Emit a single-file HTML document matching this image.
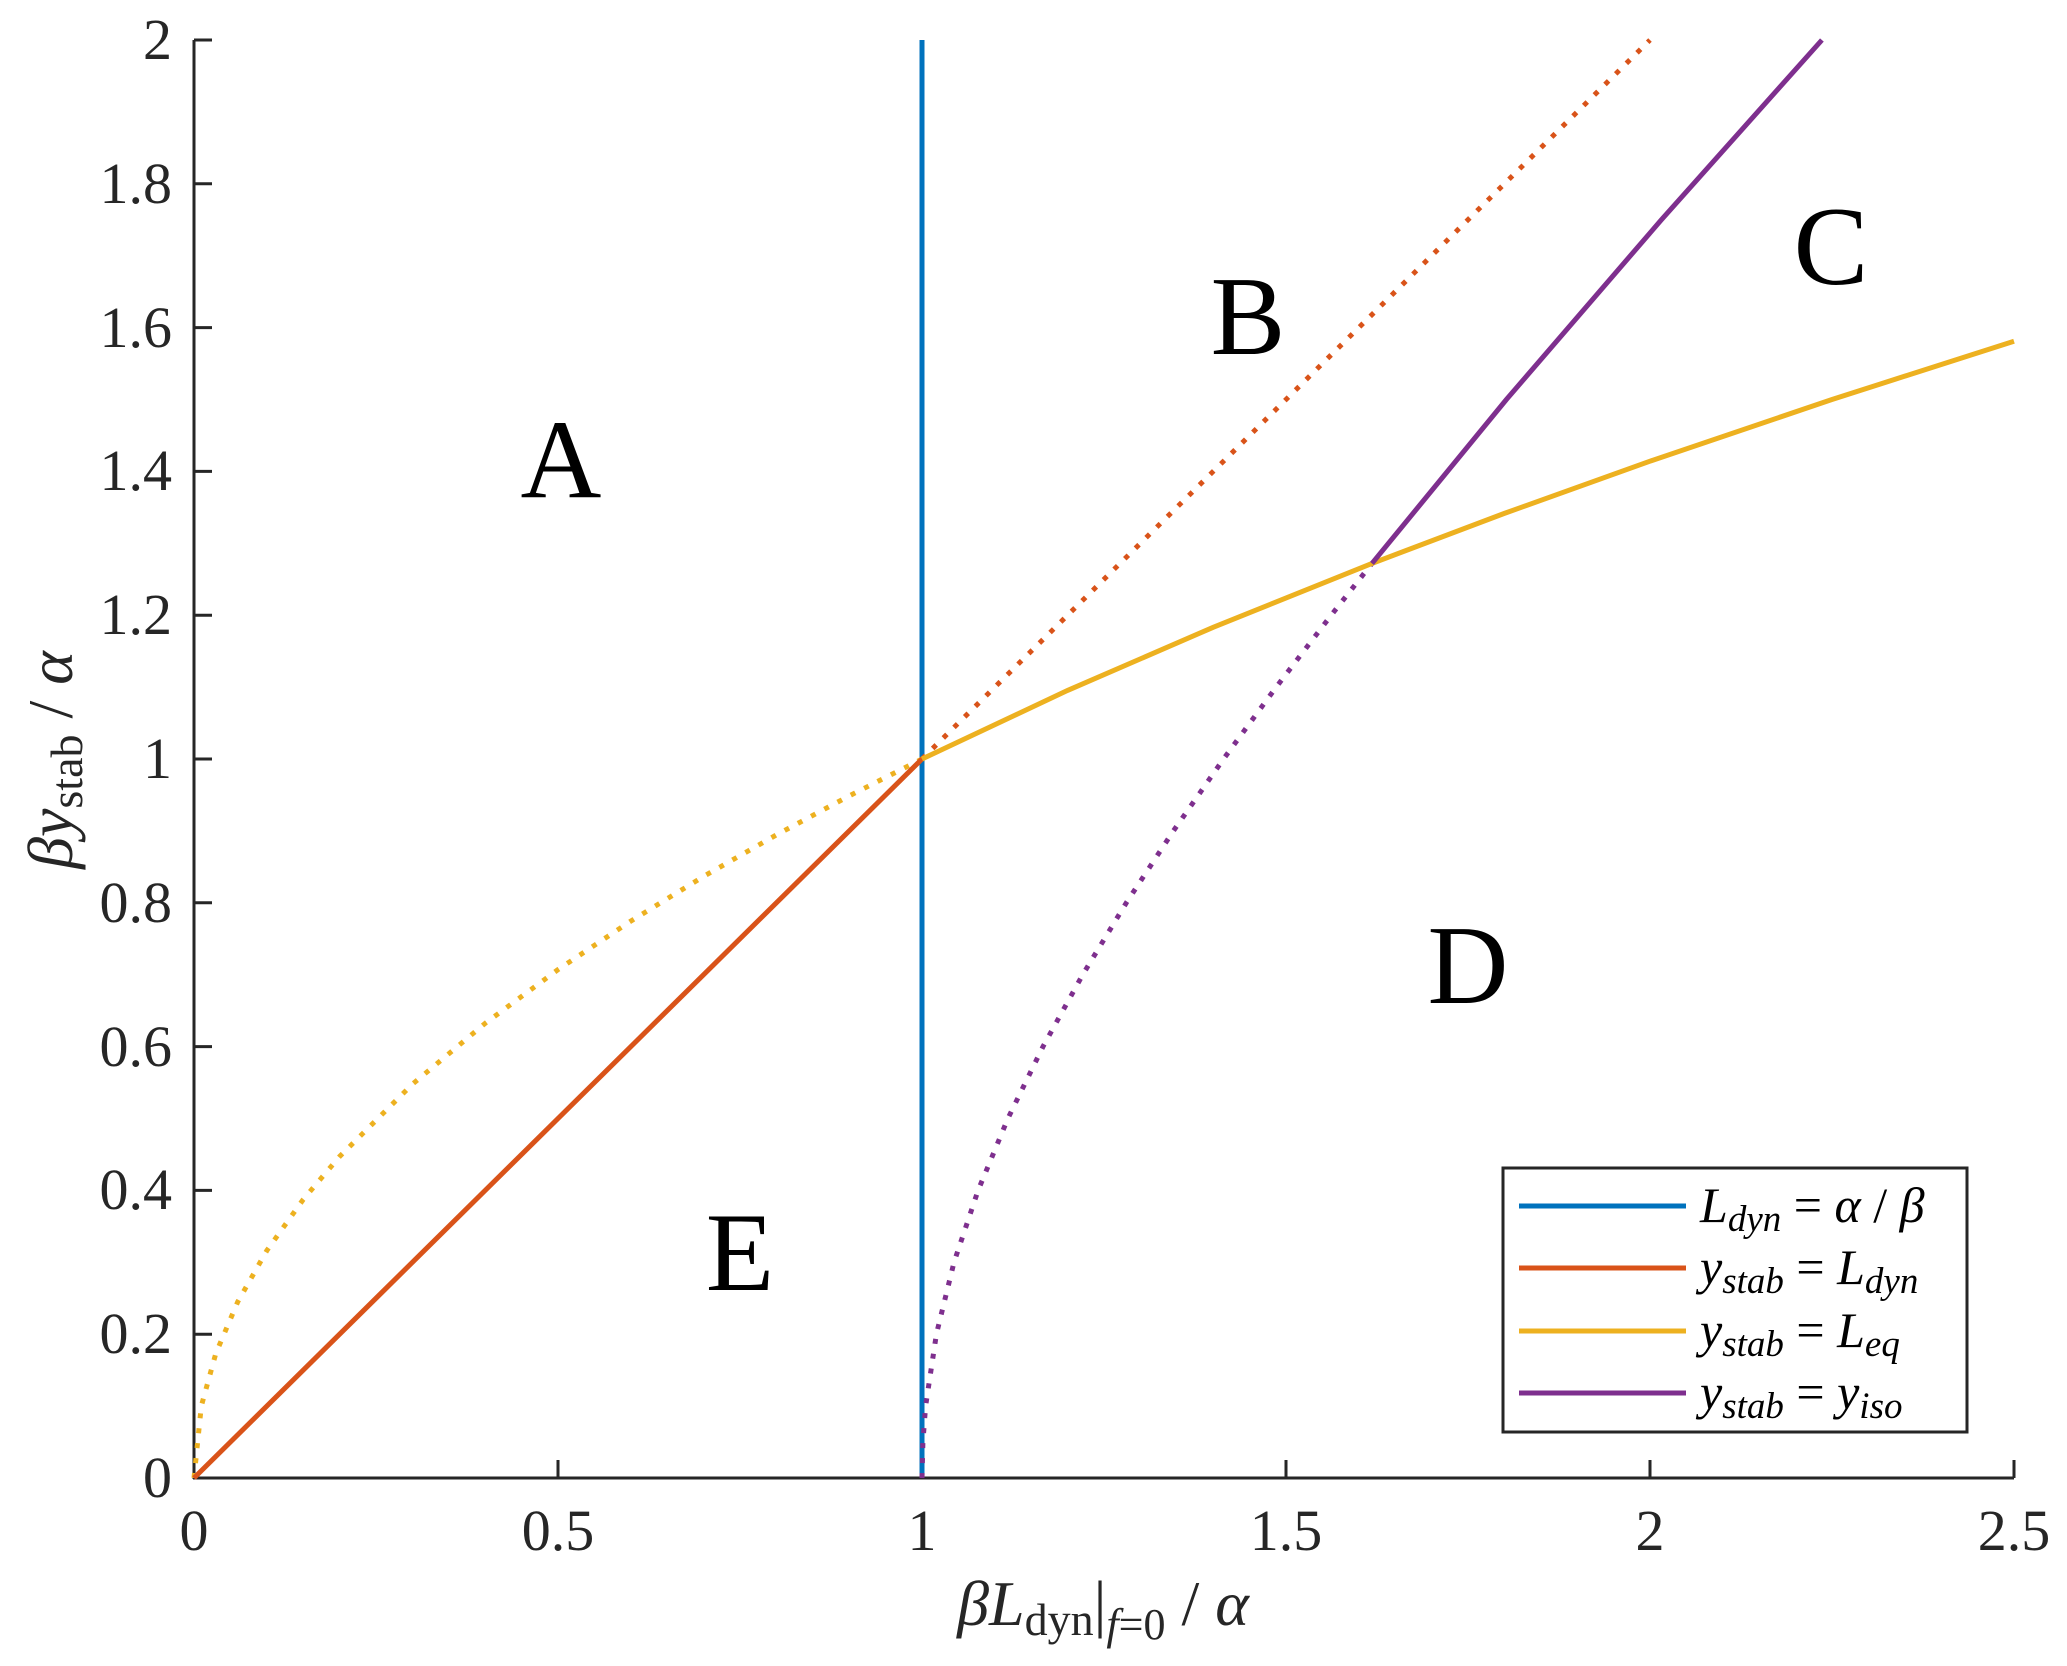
<!DOCTYPE html>
<html><head><meta charset="utf-8"><style>
html,body{margin:0;padding:0;background:#fff;}
svg{display:block;}
text{font-family:"Liberation Serif","DejaVu Serif",serif;fill:#262626;}
</style></head><body>
<svg width="2067" height="1666" viewBox="0 0 2067 1666" xmlns="http://www.w3.org/2000/svg">
<rect width="2067" height="1666" fill="#fff"/>
<g stroke="#262626" stroke-width="3" fill="none">
<line x1="194" y1="40" x2="194" y2="1479"/>
<line x1="193" y1="1478" x2="2014" y2="1478"/>
<line x1="558" y1="1478" x2="558" y2="1460"/>
<line x1="922" y1="1478" x2="922" y2="1460"/>
<line x1="1286" y1="1478" x2="1286" y2="1460"/>
<line x1="1650" y1="1478" x2="1650" y2="1460"/>
<line x1="2014" y1="1478" x2="2014" y2="1460"/>
<line x1="194" y1="1334.2" x2="212" y2="1334.2"/>
<line x1="194" y1="1190.4" x2="212" y2="1190.4"/>
<line x1="194" y1="1046.6" x2="212" y2="1046.6"/>
<line x1="194" y1="902.8" x2="212" y2="902.8"/>
<line x1="194" y1="759" x2="212" y2="759"/>
<line x1="194" y1="615.2" x2="212" y2="615.2"/>
<line x1="194" y1="471.4" x2="212" y2="471.4"/>
<line x1="194" y1="327.6" x2="212" y2="327.6"/>
<line x1="194" y1="183.8" x2="212" y2="183.8"/>
<line x1="194" y1="40" x2="212" y2="40"/>
</g>
<g font-size="58" text-anchor="end">
<text x="172" y="1497">0</text>
<text x="172" y="1353">0.2</text>
<text x="172" y="1209">0.4</text>
<text x="172" y="1066">0.6</text>
<text x="172" y="922">0.8</text>
<text x="172" y="778">1</text>
<text x="172" y="634">1.2</text>
<text x="172" y="490">1.4</text>
<text x="172" y="347">1.6</text>
<text x="172" y="203">1.8</text>
<text x="172" y="59">2</text>
</g>
<g font-size="58" text-anchor="middle">
<text x="194" y="1550">0</text>
<text x="558" y="1550">0.5</text>
<text x="922" y="1550">1</text>
<text x="1286" y="1550">1.5</text>
<text x="1650" y="1550">2</text>
<text x="2014" y="1550">2.5</text>
</g>
<text x="1103" y="1625" font-size="64" text-anchor="middle"><tspan font-style="italic">βL</tspan><tspan font-size="46" dy="10">dyn</tspan><tspan dy="-10">|</tspan><tspan font-size="44" font-style="italic" dy="14">f</tspan><tspan font-size="44">=0</tspan><tspan dy="-14"> / </tspan><tspan font-style="italic">α</tspan></text>
<text transform="translate(72,760) rotate(-90)" font-size="64" text-anchor="middle"><tspan font-style="italic">βy</tspan><tspan font-size="46" dy="10">stab</tspan><tspan dy="-10"> / </tspan><tspan font-style="italic">α</tspan></text>
<g fill="none" stroke-width="5">
<line x1="922" y1="40" x2="922" y2="1478" stroke="#0072BD"/>
<polyline stroke="#EDB120" stroke-dasharray="5 10" points="194,1478 201.3,1406.1 215.8,1353.5 237.7,1301.9 266.8,1250.6 303.2,1199.5 339.6,1156.5 412.4,1084.2 485.2,1023.3 558,969.6 630.8,921.1 703.6,876.4 776.4,834.9 849.2,795.9 922,759"/>
<polyline stroke="#7E2F8E" stroke-dasharray="5 10" points="922,1478 922.9,1442 925.6,1406.1 936.4,1334.2 954,1262.3 978.1,1190.4 1007.9,1118.5 1043,1046.6 1082.7,974.7 1126.3,902.8 1173.4,830.9 1223.5,759 1276.2,687.1 1331.2,615.2 1372,563.4"/>
<line x1="922" y1="759" x2="1650" y2="40" stroke="#D95319" stroke-dasharray="5 10"/>
<line x1="194" y1="1478" x2="922" y2="759" stroke="#D95319"/>
<polyline stroke="#EDB120" points="922,759 1067.6,690.4 1213.2,627.3 1372,563.4 1504.4,513.4 1650,461.2 1832,399.5 2014,341.2"/>
<polyline stroke="#7E2F8E" points="1372,563.4 1506.4,399.5 1661.4,219.75 1821.9,40"/>
</g>
<g font-size="112" text-anchor="middle">
<text x="561" y="497" style="fill:#000">A</text>
<text x="1248" y="354" style="fill:#000">B</text>
<text x="1831" y="284" style="fill:#000">C</text>
<text x="1468" y="1003" style="fill:#000">D</text>
<text x="740" y="1290" style="fill:#000">E</text>
</g>
<rect x="1503" y="1168" width="464" height="264" fill="#fff" stroke="#262626" stroke-width="3"/>
<g stroke-width="5">
<line x1="1519" y1="1206" x2="1686" y2="1206" stroke="#0072BD"/>
<line x1="1519" y1="1268" x2="1686" y2="1268" stroke="#D95319"/>
<line x1="1519" y1="1331" x2="1686" y2="1331" stroke="#EDB120"/>
<line x1="1519" y1="1393" x2="1686" y2="1393" stroke="#7E2F8E"/>
</g>
<g font-size="50">
<text x="1700" y="1222" style="fill:#000"><tspan font-style="italic">L</tspan><tspan font-style="italic" font-size="37" dy="9">dyn</tspan><tspan dy="-9"> = </tspan><tspan font-style="italic">α</tspan> / <tspan font-style="italic">β</tspan></text>
<text x="1700" y="1284" style="fill:#000"><tspan font-style="italic">y</tspan><tspan font-style="italic" font-size="37" dy="9">stab</tspan><tspan dy="-9"> = </tspan><tspan font-style="italic">L</tspan><tspan font-style="italic" font-size="37" dy="9">dyn</tspan></text>
<text x="1700" y="1347" style="fill:#000"><tspan font-style="italic">y</tspan><tspan font-style="italic" font-size="37" dy="9">stab</tspan><tspan dy="-9"> = </tspan><tspan font-style="italic">L</tspan><tspan font-style="italic" font-size="37" dy="9">eq</tspan></text>
<text x="1700" y="1409" style="fill:#000"><tspan font-style="italic">y</tspan><tspan font-style="italic" font-size="37" dy="9">stab</tspan><tspan dy="-9"> = </tspan><tspan font-style="italic">y</tspan><tspan font-style="italic" font-size="37" dy="9">iso</tspan></text>
</g>
</svg>
</body></html>
